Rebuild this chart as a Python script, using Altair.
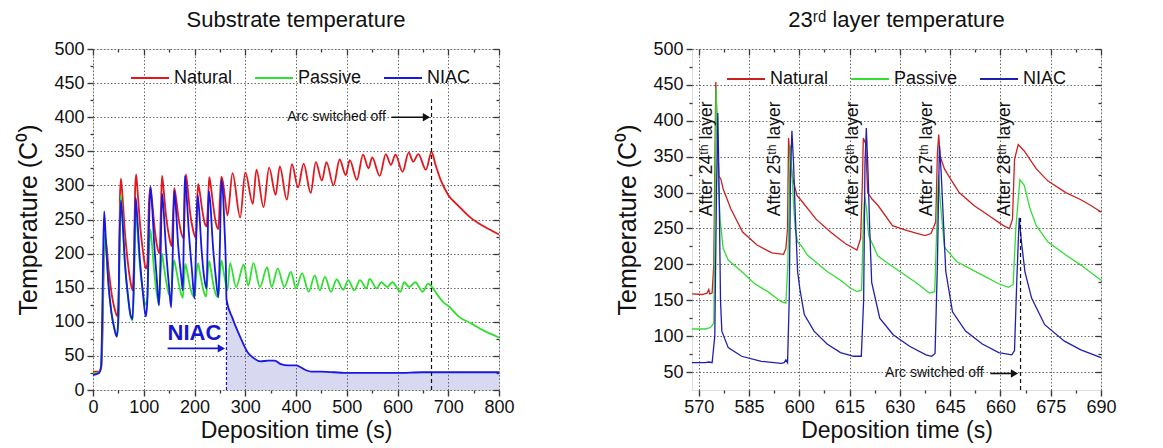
import altair as alt
import pandas as pd

FONT = "Liberation Sans"
AX = "#3a3a3a"
SERIES = ["Natural", "Passive", "NIAC"]

# ---------------- Left panel: substrate temperature ----------------
nat_t = [0, 12, 16, 19, 21, 23, 26, 31, 37, 43, 48, 51, 53, 55, 58, 63, 69, 74, 78, 81,
         83, 85, 88, 93, 99, 104, 107, 110, 113, 116, 121, 126, 131, 134, 136, 139, 144, 150, 155, 158,
         160, 163, 168, 174, 179, 181, 183, 186, 191, 197, 203, 205, 207, 210, 215, 220, 224, 227, 229, 232,
         237, 242, 247, 250, 253, 256, 260, 265, 275, 290, 300, 315, 322, 336, 347, 360, 368, 382, 392, 404,
         415, 429, 439, 451, 460, 474, 486, 498, 506, 520, 532, 543, 550, 565, 577, 587, 596, 610, 622, 631,
         641, 656, 667, 675, 685, 700, 720, 745, 770, 800]
nat_v = [27, 27, 32, 90, 180, 225, 215, 175, 140, 118, 108, 150, 280, 310, 285, 230, 185, 158, 146, 200,
         295, 316, 290, 240, 200, 178, 185, 270, 297, 280, 240, 212, 200, 270, 314, 295, 255, 225, 211, 260,
         296, 285, 255, 230, 222, 280, 316, 300, 262, 235, 223, 270, 302, 292, 265, 245, 240, 280, 312, 300,
         270, 245, 236, 280, 313, 305, 282, 256, 318, 253, 319, 273, 323, 268, 326, 286, 328, 279, 331, 297,
         332, 289, 334, 307, 334, 300, 338, 315, 337, 308, 345, 325, 341, 314, 346, 330, 345, 320, 348, 335,
         346, 323, 349, 330, 308, 286, 270, 252, 240, 228]

pas_t = [0, 12, 16, 19, 21, 23, 26, 31, 37, 43, 48, 51, 53, 55, 58, 63, 69, 74, 78, 81,
         84, 87, 92, 98, 104, 107, 110, 113, 116, 121, 126, 130, 133, 136, 139, 144, 150, 154, 157, 160,
         163, 168, 174, 177, 180, 182, 186, 191, 197, 200, 203, 207, 210, 215, 220, 223, 226, 229, 232, 237,
         242, 247, 250, 253, 257, 261, 265, 270, 282, 297, 306, 316, 329, 343, 352, 364, 377, 390, 400, 412,
         425, 437, 447, 457, 469, 480, 493, 503, 515, 526, 539, 545, 559, 568, 580, 590, 606, 613, 623, 635,
         650, 660, 667, 680, 690, 702, 720, 747, 770, 800]
pas_v = [24, 26, 35, 110, 190, 228, 205, 150, 110, 88, 80, 120, 240, 285, 255, 185, 135, 108, 102, 160,
         265, 240, 185, 145, 125, 135, 200, 235, 215, 170, 140, 125, 170, 200, 185, 160, 140, 138, 175, 190,
         180, 160, 140, 135, 170, 185, 172, 152, 138, 136, 165, 186, 175, 155, 140, 137, 170, 189, 178, 155,
         140, 136, 170, 190, 175, 158, 146, 186, 151, 184, 153, 186, 151, 180, 151, 178, 151, 173, 149, 171,
         144, 168, 146, 166, 144, 162, 147, 161, 146, 161, 149, 163, 149, 158, 151, 158, 144, 158, 151, 158,
         144, 156, 152, 138, 129, 122, 108, 97, 87, 77]

niac_t = [0, 12, 16, 18, 20, 22, 25, 30, 36, 42, 47, 50, 52, 55, 58, 63, 69, 74, 78, 81,
          84, 87, 92, 98, 104, 107, 110, 113, 116, 121, 126, 130, 133, 136, 139, 144, 150, 154, 157, 160,
          163, 168, 174, 177, 179, 181, 184, 189, 195, 200, 203, 206, 209, 214, 220, 224, 226, 228, 231, 236,
          242, 247, 250, 253, 256, 259, 262, 263, 275, 290, 305, 318, 330, 345, 358, 370, 385, 400, 410, 420,
          430, 450, 500, 550, 600, 650, 700, 750, 800]
niac_v = [22, 25, 35, 100, 200, 262, 225, 160, 115, 90, 78, 110, 210, 278, 250, 185, 138, 110, 104, 180,
          282, 255, 195, 145, 108, 130, 230, 298, 275, 210, 160, 124, 190, 288, 265, 205, 150, 121, 195, 292,
          270, 210, 165, 146, 230, 314, 290, 230, 175, 134, 210, 286, 265, 205, 160, 149, 220, 292, 275, 215,
          165, 136, 210, 308, 290, 240, 175, 133, 105, 78, 55, 46, 42, 43, 43, 38, 36, 36, 33, 29,
          27, 27, 25, 25, 25, 26, 26, 26, 26]

niac_on_t = 263          # NIAC switched on
niac_on_v = 133
arc_off_L_t = 667        # arc switched off
arc_off_L_top = 427

# ---------------- Right panel: 23rd layer temperature ----------------
rn_t = [568, 571, 572.5, 573, 573.3, 574, 574.5, 575.1, 575.6, 576,
        576.6, 577.3, 579.6, 583.1, 587.4, 591.8, 595.3, 596, 596.5, 596.8,
        597.3, 598, 599.3, 600.6, 605, 609.3, 613.7, 617.2, 618.3, 618.8,
        619.1, 619.8, 620.4, 621.7, 623.5, 627.8, 632.2, 637.5, 639.3, 640.7,
        641.2, 641.6, 642, 643.3, 645.1, 647.7, 652.1, 656.5, 660.9, 662.7,
        663.6, 664.2, 665.3, 667.1, 670.7, 674.2, 679.5, 684, 687, 690]
rn_v = [159, 158, 160, 165, 159, 160, 200, 454, 380, 323,
        319, 305, 277, 245, 227, 216, 214, 222, 250, 376,
        346, 321, 296, 289, 263, 245, 229, 220, 236, 310,
        376, 368, 300, 291, 282, 254, 247, 240, 243, 259,
        355, 381, 351, 333, 319, 300, 282, 268, 254, 250,
        263, 346, 367, 358, 333, 316, 300, 290, 282, 273]

rp_t = [568, 572, 573.5, 574.5, 574.9, 575.2, 575.6, 576, 576.4, 577.3,
        578.8, 582.8, 586.7, 590.6, 594.6, 596, 596.6, 597.3, 597.8, 598.3,
        598.8, 599.5, 600.6, 602.4, 608.3, 612.3, 615.2, 617.2, 618.6, 619.1,
        619.5, 620, 620.7, 623.4, 626, 630, 635, 638.8, 640.4, 641,
        641.5, 642.2, 643.3, 646.9, 654.6, 659.5, 662.4, 663.8, 664.6, 665.8,
        667.1, 668.8, 670.7, 674.2, 679.5, 684, 690]
rp_v = [110, 110, 112, 118, 300, 446, 360, 300, 262, 222,
        206, 190, 173, 162, 148, 146, 200, 366, 330, 282,
        250, 231, 226, 213, 190, 178, 167, 162, 164, 260,
        294, 280, 240, 212, 203, 190, 174, 160, 162, 250,
        325, 280, 224, 204, 185, 173, 168, 172, 250, 318,
        310, 278, 254, 231, 213, 199, 178]

rb_t = [568, 572, 573, 574, 574.8, 575.3, 575.7, 576.1, 576.5, 576.9,
        578.8, 582.8, 588.7, 594.6, 595.5, 596, 596.5, 597, 597.4, 597.8,
        598.3, 598.8, 599.5, 600.2, 601.5, 604.4, 608.3, 612.3, 616.2, 618.5,
        619.2, 619.6, 620, 620.5, 621, 621.6, 624, 628, 632.9, 637.8,
        639.5, 640.5, 641.2, 641.8, 642.3, 643, 643.7, 645.7, 649.6, 654.6,
        659.5, 663.4, 664.2, 664.9, 665.6, 666.3, 667.3, 669.3, 673.2, 679.1,
        684, 690]
rb_v = [63, 63, 64, 63, 100, 300, 411, 300, 150, 107,
        84, 72, 65, 62, 63, 67, 63, 150, 330, 386,
        340, 270, 190, 165, 130, 107, 89, 77, 72, 72,
        150, 340, 390, 330, 250, 175, 125, 102, 86, 74,
        72, 76, 200, 365, 330, 260, 190, 134, 107, 89,
        77, 74, 80, 180, 265, 230, 190, 153, 116, 93,
        81, 70]

after_labels = ["After 24ᵗʰ layer", "After 25ᵗʰ layer", "After 26ᵗʰ layer",
                "After 27ᵗʰ layer", "After 28ᵗʰ layer"]
after_t = [572.6, 592.9, 616.1, 638.1, 661.5]
after_v = [347, 347, 347, 347, 347]
arc_off_R_t = 666
arc_off_R_top = 265

# ticks
xL_major = list(range(0, 801, 100))
xL_minor = list(range(50, 800, 100))
yL_major = list(range(0, 501, 50))
yL_minor = list(range(25, 500, 50))
xR_major = [570, 585, 600, 615, 630, 645, 660, 675, 690]
xR_minor = [577.5, 592.5, 607.5, 622.5, 637.5, 652.5, 667.5, 682.5]
yR_major = list(range(50, 501, 50))
yR_minor = list(range(75, 500, 50))


def long_df(ts_list, vs_list):
    rows = []
    for name, ts, vs in zip(SERIES, ts_list, vs_list):
        for t, v in zip(ts, vs):
            rows.append({"series": name, "t": t, "v": v})
    return pd.DataFrame(rows)


def main_x(values):
    return alt.Axis(orient="bottom", values=values, format="d", title="Deposition time (s)",
                    grid=True, gridColor="#6a6a6a", gridDash=[1.5, 2], gridWidth=1,
                    domain=False, ticks=True, tickSize=6, tickWidth=1.4, tickColor=AX,
                    labelFont=FONT, labelFontSize=18, labelColor="#111", labelPadding=2,
                    labelOverlap=False, labelFlush=False,
                    titleFont=FONT, titleFontSize=23, titleFontWeight="normal",
                    titleColor="#111", titlePadding=3)


def main_y(values):
    return alt.Axis(orient="left", values=values, format="d", title="Temperature (C⁰)",
                    grid=True, gridColor="#6a6a6a", gridDash=[1.5, 2], gridWidth=1,
                    domain=False, ticks=True, tickSize=6, tickWidth=1.4, tickColor=AX,
                    labelFont=FONT, labelFontSize=18, labelColor="#111", labelPadding=3,
                    labelOverlap=False, labelFlush=False,
                    titleFont=FONT, titleFontSize=25, titleFontWeight="normal",
                    titleColor="#111", titlePadding=12)


def tick_axis(orient, values, size, offset):
    return alt.Axis(orient=orient, values=values, labels=False, title=None, grid=False,
                    domain=False, ticks=True, tickSize=size, tickWidth=1.3, tickColor=AX,
                    offset=offset)


def holder(xs, ys, xaxis, yaxis, t0, v0):
    return alt.Chart(pd.DataFrame({"t": [t0], "v": [v0]})).mark_point(opacity=0).encode(
        x=alt.X("t:Q", scale=xs, axis=xaxis), y=alt.Y("v:Q", scale=ys, axis=yaxis))


def legend(x, y):
    return alt.Legend(title=None, orient="none", legendX=x, legendY=y, direction="horizontal",
                      symbolType="stroke", symbolSize=1444, symbolStrokeWidth=2,
                      labelFont=FONT, labelFontSize=18, labelColor="#111", labelOffset=4,
                      columnPadding=18, padding=0, labelLimit=0)


def arrow(xs, ys, x1, x2, y, color):
    d = pd.DataFrame({"x1": [x1], "x2": [x2], "y": [y]})
    body = alt.Chart(d).mark_rule(color=color, strokeWidth=1.6).encode(
        x=alt.X("x1:Q", scale=xs, axis=None), x2="x2:Q", y=alt.Y("y:Q", scale=ys, axis=None))
    head = alt.Chart(d).mark_point(shape="triangle-right", filled=True, size=70,
                                   color=color, opacity=1).encode(
        x=alt.X("x2:Q", scale=xs, axis=None), y=alt.Y("y:Q", scale=ys, axis=None))
    return body + head


def text_at(xs, ys, txt, t, v, **kw):
    d = pd.DataFrame({"t": [t], "v": [v], "s": [txt]})
    return alt.Chart(d).mark_text(font=FONT, **kw).encode(
        x=alt.X("t:Q", scale=xs, axis=None), y=alt.Y("v:Q", scale=ys, axis=None), text="s:N")


def vline(xs, ys, t, v0, v1, color, dash):
    d = pd.DataFrame({"t": [t], "v0": [v0], "v1": [v1]})
    return alt.Chart(d).mark_rule(color=color, strokeDash=dash, strokeWidth=1.2).encode(
        x=alt.X("t:Q", scale=xs, axis=None), y=alt.Y("v0:Q", scale=ys, axis=None), y2="v1:Q")


# ---------------- build left ----------------
xsL = alt.Scale(domain=[0, 800], nice=False, zero=False)
ysL = alt.Scale(domain=[0, 500], nice=False, zero=False)
dfL = long_df([nat_t, pas_t, niac_t], [nat_v, pas_v, niac_v])
df_area = pd.DataFrame({"t": niac_t, "v": niac_v})
df_area = df_area[df_area["t"] >= niac_on_t]

area = alt.Chart(df_area).mark_area(color="#3c3cb4", opacity=0.2, interpolate="monotone").encode(
    x=alt.X("t:Q", scale=xsL, axis=None), y=alt.Y("v:Q", scale=ysL, axis=None), y2=alt.datum(0))

linesL = alt.Chart(dfL).mark_line(strokeWidth=1.8, interpolate="monotone").encode(
    x=alt.X("t:Q", scale=xsL, axis=main_x(xL_major)),
    y=alt.Y("v:Q", scale=ysL, axis=main_y(yL_major)),
    color=alt.Color("series:N", sort=SERIES,
                    scale=alt.Scale(domain=SERIES, range=["#e3171c", "#2fe02f", "#1717e6"]),
                    legend=legend(37, 9)),
)

left = alt.layer(
    area,
    linesL,
    holder(xsL, ysL, tick_axis("bottom", xL_minor, 3, 0), tick_axis("left", yL_minor, 3, 0), 0, 0),
    holder(xsL, ysL, tick_axis("top", xL_major, 6, -6), tick_axis("right", yL_major, 6, -6), 0, 0),
    holder(xsL, ysL, tick_axis("top", xL_minor, 3, -3), tick_axis("right", yL_minor, 3, -3), 0, 0),
    vline(xsL, ysL, arc_off_L_t, 0, arc_off_L_top, "#111", [4, 3]),
    vline(xsL, ysL, niac_on_t, 0, niac_on_v, "#1717c8", [3, 2]),
    text_at(xsL, ysL, "Arc switched off", 577, 400, align="right", baseline="middle",
            fontSize=14, color="#111"),
    arrow(xsL, ysL, 588, 657, 400, "#111"),
    text_at(xsL, ysL, "NIAC", 200, 84, align="center", baseline="middle",
            fontSize=22, fontWeight="bold", color="#1717d0"),
    arrow(xsL, ysL, 147, 253, 61, "#1717d0"),
).resolve_axis(x="independent", y="independent").properties(
    width=406, height=341,
    title=alt.Title("Substrate temperature", font=FONT, fontSize=22, fontWeight="normal",
                    color="#111", offset=8),
)

# ---------------- build right ----------------
xsR = alt.Scale(domain=[568, 690], nice=False, zero=False)
ysR = alt.Scale(domain=[25, 500], nice=False, zero=False)
dfR = long_df([rn_t, rp_t, rb_t], [rn_v, rp_v, rb_v])

linesR = alt.Chart(dfR).mark_line(strokeWidth=1.3).encode(
    x=alt.X("t:Q", scale=xsR, axis=main_x(xR_major)),
    y=alt.Y("v:Q", scale=ysR, axis=main_y(yR_major)),
    color=alt.Color("series:N", sort=SERIES,
                    scale=alt.Scale(domain=SERIES, range=["#cc2020", "#33dd33", "#1f1fae"]),
                    legend=legend(34, 10)),
)

df_after = pd.DataFrame({"t": after_t, "v": after_v, "s": after_labels})
after_txt = alt.Chart(df_after).mark_text(font=FONT, fontSize=17.5, angle=270, align="center",
                                          baseline="middle", color="#111").encode(
    x=alt.X("t:Q", scale=xsR, axis=None), y=alt.Y("v:Q", scale=ysR, axis=None), text="s:N")

right = alt.layer(
    linesR,
    holder(xsR, ysR, tick_axis("bottom", xR_minor, 3, 0), tick_axis("left", yR_minor, 3, 0), 600, 100),
    holder(xsR, ysR, tick_axis("top", xR_major, 6, -6), tick_axis("right", yR_major, 6, -6), 600, 100),
    holder(xsR, ysR, tick_axis("top", xR_minor, 3, -3), tick_axis("right", yR_minor, 3, -3), 600, 100),
    vline(xsR, ysR, arc_off_R_t, 25, arc_off_R_top, "#111", [4, 3]),
    after_txt,
    text_at(xsR, ysR, "Arc switched off", 655, 48, align="right", baseline="middle",
            fontSize=14, color="#111"),
    arrow(xsR, ysR, 657, 664.2, 48, "#111"),
).resolve_axis(x="independent", y="independent").properties(
    width=409, height=341,
    title=alt.Title("23ʳᵈ layer temperature", font=FONT, fontSize=22, fontWeight="normal",
                    color="#111", offset=8),
)

chart = alt.hconcat(left, right, spacing=100).resolve_scale(
    color="independent").resolve_legend(color="independent").properties(
    padding={"left": 8, "top": 0, "right": 5, "bottom": 0}).configure_view(
    stroke=AX, strokeWidth=1.5).configure(background="white")

chart.save("out.html", embed_options={"renderer": "svg", "actions": False})
